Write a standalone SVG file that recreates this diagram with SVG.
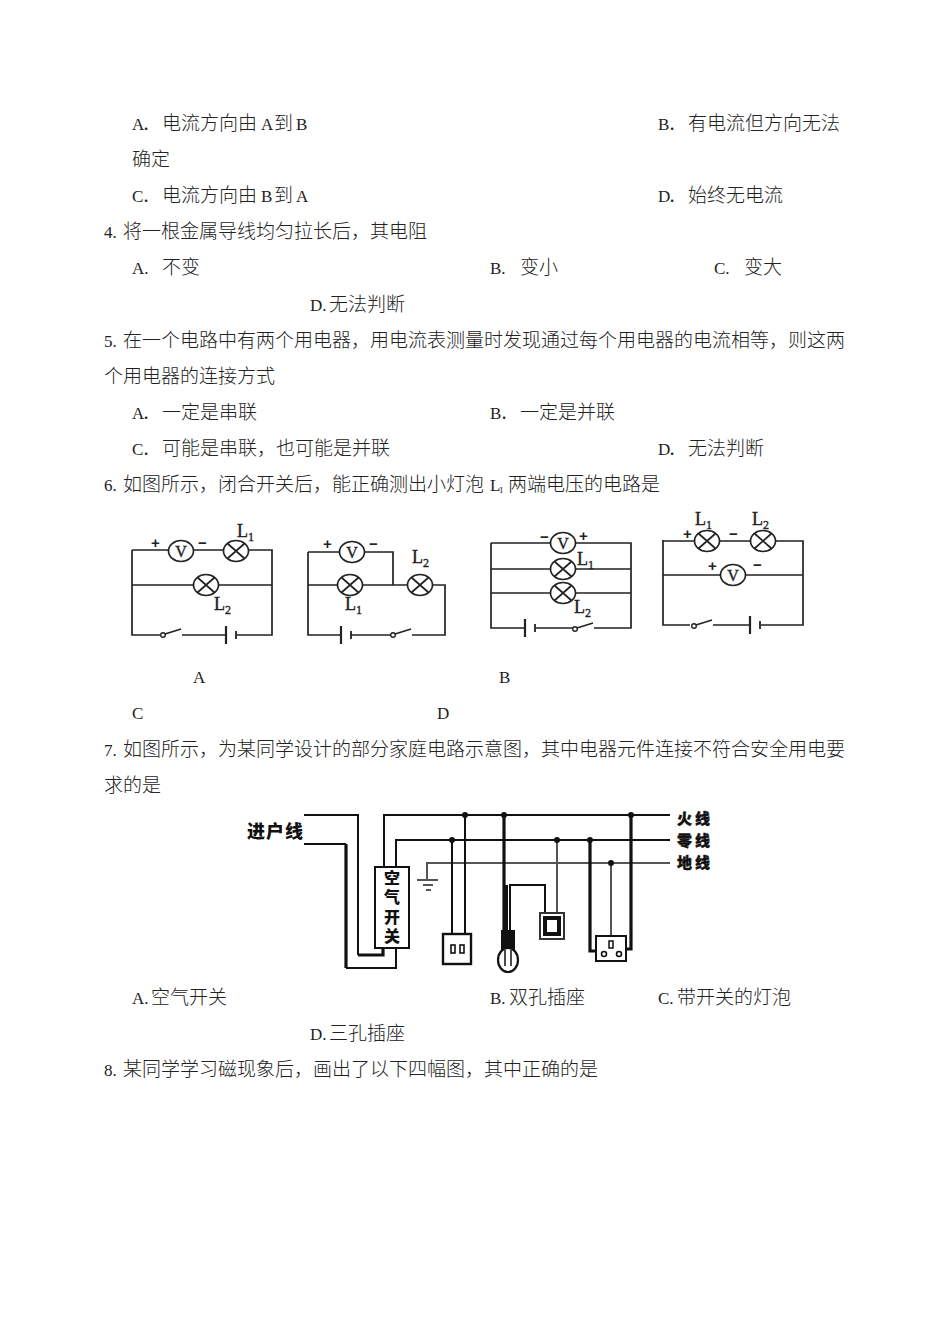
<svg xmlns="http://www.w3.org/2000/svg" xmlns:xlink="http://www.w3.org/1999/xlink" width="950" height="1342" viewBox="0 0 950 1342">
<style>
.t{font-family:"Noto Sans CJK SC","Liberation Sans",sans-serif;font-size:19px;font-weight:300;fill:#222}
.l{font-family:"Liberation Serif",serif;font-size:17px;font-weight:400}
.w{fill:none;stroke:#222;stroke-width:1.7}
.k{fill:none;stroke:#111;stroke-width:2}
.h{fill:none;stroke:#111;stroke-width:3.2}
.g{fill:none;stroke:#555;stroke-width:2}
.c{font-family:"Liberation Serif",serif;font-size:18px;font-weight:400;fill:#222;stroke:#222;stroke-width:.35}
.s{font-size:12px}
.p{font-family:"Liberation Sans",sans-serif;font-size:15px;font-weight:700;fill:#222}
.b{font-family:"Noto Sans CJK SC",sans-serif;font-size:18px;font-weight:900;fill:#111}
.n{font-family:"Noto Sans CJK SC",sans-serif;font-size:15px;font-weight:900;fill:#111;letter-spacing:3px;stroke:#111;stroke-width:.4}
.v{font-family:"Noto Sans CJK SC",sans-serif;font-size:16px;font-weight:900;fill:#111;writing-mode:vertical-rl;letter-spacing:3.4px}
</style>
<defs>
<g id="lamp"><ellipse rx="12.5" ry="10.5" fill="#fff" stroke="#222" stroke-width="1.7"/><path d="M-8.5-7.5 8.5 7.5M-8.5 7.5 8.5-7.5" stroke="#222" stroke-width="1.7"/></g>
<g id="volt"><ellipse rx="12.5" ry="10.5" fill="#fff" stroke="#222" stroke-width="1.7"/><text y="5.5" text-anchor="middle" class="c" style="font-size:16px">V</text></g>
<g id="sw"><circle cx="0" cy="0" r="2.3" fill="#fff" stroke="#222" stroke-width="1.4"/><path d="M2-1 18-6" stroke="#222" stroke-width="1.6"/></g>
<g id="bat"><path d="M0-9V9" stroke="#222" stroke-width="2.2"/><path d="M10-4V4" stroke="#222" stroke-width="1.8"/></g>
</defs>

<g id="text">
<text class="t" y="130"><tspan class="l" x="132">A</tspan><tspan x="142">．</tspan><tspan x="162">电流方向由</tspan><tspan class="l" x="261">A</tspan><tspan x="274">到</tspan><tspan class="l" x="296">B</tspan></text>
<text class="t" y="130"><tspan class="l" x="658">B</tspan><tspan x="668">．</tspan><tspan x="688">有电流但方向无法</tspan></text>
<text class="t" x="132" y="166">确定</text>
<text class="t" y="202"><tspan class="l" x="132">C</tspan><tspan x="142">．</tspan><tspan x="162">电流方向由</tspan><tspan class="l" x="261">B</tspan><tspan x="274">到</tspan><tspan class="l" x="296">A</tspan></text>
<text class="t" y="202"><tspan class="l" x="658">D</tspan><tspan x="668">．</tspan><tspan x="688">始终无电流</tspan></text>
<text class="t" y="238"><tspan class="l" x="104">4.</tspan><tspan x="123">将一根金属导线均匀拉长后，其电阻</tspan></text>
<text class="t" y="274"><tspan class="l" x="132">A.</tspan><tspan x="162">不变</tspan></text>
<text class="t" y="274"><tspan class="l" x="490">B.</tspan><tspan x="520">变小</tspan></text>
<text class="t" y="274"><tspan class="l" x="714">C.</tspan><tspan x="744">变大</tspan></text>
<text class="t" y="311"><tspan class="l" x="310">D.</tspan><tspan x="329">无法判断</tspan></text>
<text class="t" y="347"><tspan class="l" x="104">5.</tspan><tspan x="123">在一个电路中有两个用电器，用电流表测量时发现通过每个用电器的电流相等，则这两</tspan></text>
<text class="t" x="104" y="383">个用电器的连接方式</text>
<text class="t" y="419"><tspan class="l" x="132">A</tspan><tspan x="142">．</tspan><tspan x="162">一定是串联</tspan></text>
<text class="t" y="419"><tspan class="l" x="490">B</tspan><tspan x="500">．</tspan><tspan x="520">一定是并联</tspan></text>
<text class="t" y="455"><tspan class="l" x="132">C</tspan><tspan x="142">．</tspan><tspan x="162">可能是串联，也可能是并联</tspan></text>
<text class="t" y="455"><tspan class="l" x="658">D</tspan><tspan x="668">．</tspan><tspan x="688">无法判断</tspan></text>
<text class="t" y="491"><tspan class="l" x="104">6.</tspan><tspan x="123">如图所示，闭合开关后，能正确测出小灯泡</tspan><tspan class="l" x="490">L</tspan><tspan class="l" x="499" dy="2" style="font-size:9px">1</tspan><tspan x="508" dy="-2">两端电压的电路是</tspan></text>
<text class="t l" x="193" y="683">A</text>
<text class="t l" x="499" y="683">B</text>
<text class="t l" x="132" y="719">C</text>
<text class="t l" x="437" y="719">D</text>
<text class="t" y="756"><tspan class="l" x="104">7.</tspan><tspan x="123">如图所示，为某同学设计的部分家庭电路示意图，其中电器元件连接不符合安全用电要</tspan></text>
<text class="t" x="104" y="792">求的是</text>
<text class="t" y="1004"><tspan class="l" x="132">A.</tspan><tspan x="151">空气开关</tspan></text>
<text class="t" y="1004"><tspan class="l" x="490">B.</tspan><tspan x="509">双孔插座</tspan></text>
<text class="t" y="1004"><tspan class="l" x="658">C.</tspan><tspan x="677">带开关的灯泡</tspan></text>
<text class="t" y="1040"><tspan class="l" x="310">D.</tspan><tspan x="329">三孔插座</tspan></text>
<text class="t" y="1076"><tspan class="l" x="104">8.</tspan><tspan x="123">某同学学习磁现象后，画出了以下四幅图，其中正确的是</tspan></text>
</g>

<g id="connectors">
<path class="w" d="M132 550V635H160M182 635H226M236 635H272V550H132M132 585H272"/>
<path class="w" d="M308 552V635H340M351 635H392M412 635H445V585H308M308 552H393V585"/>
<path class="w" d="M491 543V628H525M536 628H575M594 628H631V543H491M491 569H631M491 593H631"/>
<path class="w" d="M663 540V625H690M713 625H750M761 625H803V541H663M663 575H803"/>
<path class="k" d="M304 815H358V955"/>
<path class="h" d="M358 955H383V948"/>
<path class="k" d="M304 844H346"/>
<path class="h" d="M346 844V968"/>
<path class="k" d="M346 968H396V948"/>
<path class="k" d="M384 867V815H670M396 867V840H670"/>
<path class="g" d="M427 880V863H670"/>
<path class="k" d="M452 840V934M465 815V934M510 932V885H545V912"/>
<path class="h" d="M504 815V930"/>
<path class="g" d="M557 840V912M611 863V935"/>
<path class="h" d="M590 840V951H596M631 815V949H626"/>
</g>

<g id="circuit-a">
<use xlink:href="#volt" href="#volt" x="181" y="551"/><use xlink:href="#lamp" href="#lamp" x="236" y="551"/><use xlink:href="#lamp" href="#lamp" x="206" y="585"/>
<use xlink:href="#sw" href="#sw" x="163" y="635"/><use xlink:href="#bat" href="#bat" x="226" y="635"/>
<text class="p" x="151" y="548">+</text><text class="p" x="198" y="548">−</text>
<text class="c" x="237" y="537">L<tspan class="s" dy="4">1</tspan></text><text class="c" x="214" y="610">L<tspan class="s" dy="4">2</tspan></text>
</g>
<g id="circuit-b">
<use xlink:href="#volt" href="#volt" x="352" y="552"/><use xlink:href="#lamp" href="#lamp" x="350" y="585"/><use xlink:href="#lamp" href="#lamp" x="420" y="585"/>
<use xlink:href="#bat" href="#bat" x="341" y="635"/><use xlink:href="#sw" href="#sw" x="393" y="635"/>
<text class="p" x="323" y="549">+</text><text class="p" x="369" y="549">−</text>
<text class="c" x="412" y="563">L<tspan class="s" dy="4">2</tspan></text><text class="c" x="345" y="610">L<tspan class="s" dy="4">1</tspan></text>
</g>
<g id="circuit-c">
<use xlink:href="#volt" href="#volt" x="563" y="543"/><use xlink:href="#lamp" href="#lamp" x="563" y="569"/><use xlink:href="#lamp" href="#lamp" x="563" y="593"/>
<use xlink:href="#bat" href="#bat" x="525" y="628"/><use xlink:href="#sw" href="#sw" x="575" y="629"/>
<text class="p" x="540" y="542">−</text><text class="p" x="579" y="541">+</text>
<text class="c" x="577" y="565">L<tspan class="s" dy="4">1</tspan></text><text class="c" x="574" y="613">L<tspan class="s" dy="4">2</tspan></text>
</g>
<g id="circuit-d">
<use xlink:href="#lamp" href="#lamp" x="707" y="541"/><use xlink:href="#lamp" href="#lamp" x="763" y="541"/><use xlink:href="#volt" href="#volt" x="733" y="575"/>
<use xlink:href="#sw" href="#sw" x="694" y="626"/><use xlink:href="#bat" href="#bat" x="750" y="625"/>
<text class="p" x="683" y="539">+</text><text class="p" x="729" y="539">−</text><text class="p" x="708" y="571">+</text><text class="p" x="753" y="570">−</text>
<text class="c" x="695" y="525">L<tspan class="s" dy="4">1</tspan></text><text class="c" x="752" y="525">L<tspan class="s" dy="4">2</tspan></text>
</g>

<g id="house-labels">
<text class="b" x="247" y="838" textLength="56">进户线</text>
<text class="n" x="677" y="824">火线</text>
<text class="n" x="677" y="846">零线</text>
<text class="n" x="677" y="868">地线</text>
</g>
<g id="breaker">
<rect x="375" y="867" width="34" height="81" fill="#fff" stroke="#111" stroke-width="2"/>
<text class="v" x="392" y="870">空气开关</text>
</g>
<g id="ground"><path class="g" d="M417 880H438M423 885H433M426 890H431"/></g>
<g id="junctions" fill="#111">
<circle cx="465" cy="815" r="3"/><circle cx="452" cy="840" r="3"/><circle cx="504" cy="815" r="3"/><circle cx="557" cy="840" r="3"/><circle cx="590" cy="840" r="3"/><circle cx="611" cy="863" r="3"/><circle cx="631" cy="815" r="3"/>
</g>
<g id="socket-2"><rect x="443" y="934" width="28" height="30" fill="#fff" stroke="#111" stroke-width="2.4"/><rect x="451" y="945" width="4" height="8" fill="#fff" stroke="#111" stroke-width="1.6"/><rect x="460" y="945" width="4" height="8" fill="#fff" stroke="#111" stroke-width="1.6"/></g>
<g id="bulb"><path d="M506 885V935" stroke="#111" stroke-width="4" fill="none"/><rect x="501" y="930" width="14" height="20" fill="#111"/><ellipse cx="508" cy="960" rx="10" ry="12" fill="#fff" stroke="#111" stroke-width="2.2"/><path d="M505 950V966M511 950V966" stroke="#111" stroke-width="1.5"/></g>
<g id="switch"><rect x="540" y="913" width="24" height="26" fill="#fff" stroke="#333" stroke-width="2"/><rect x="545" y="918" width="14" height="16" fill="#fff" stroke="#111" stroke-width="4"/></g>
<g id="socket-3"><rect x="596" y="936" width="30" height="25" fill="#fff" stroke="#111" stroke-width="2"/><rect x="609" y="941" width="4" height="7" fill="#fff" stroke="#111" stroke-width="1.5"/><circle cx="604" cy="954" r="2.5" fill="#fff" stroke="#111" stroke-width="1.6"/><circle cx="619" cy="954" r="2.5" fill="#fff" stroke="#111" stroke-width="1.6"/></g>
</svg>
